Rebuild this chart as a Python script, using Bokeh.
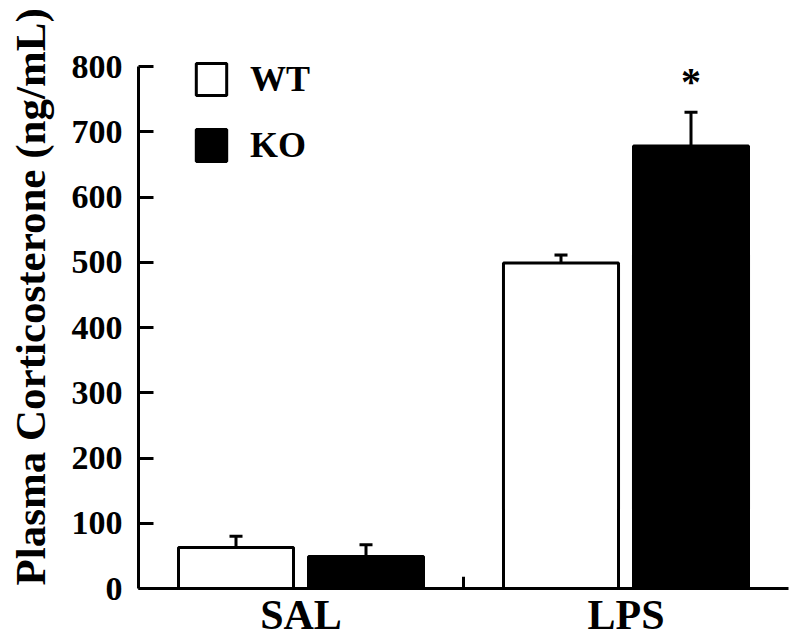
from bokeh.plotting import figure
from bokeh.models import (ColumnDataSource, FactorRange, Range1d, Whisker, TeeHead,
                          Legend, LegendItem, Title, FixedTicker)
from bokeh.transform import dodge
from bokeh.core.properties import value
from bokeh.embed import file_html
from bokeh.resources import INLINE

# ---- data ----
groups = ["SAL", "LPS"]
wt_mean = [63, 499]
wt_sem = [17, 12]
ko_mean = [49, 678]
ko_sem = [18, 52]
sig_marks = ["", "*"]          # KO vs WT significance
y_ticks = [0, 100, 200, 300, 400, 500, 600, 700, 800]
y_max_axis = 800
y_label = "Plasma Corticosterone (ng/mL)"
series_labels = ["WT", "KO"]

FONT = "Liberation Serif"

src = ColumnDataSource(dict(
    groups=groups,
    wt=wt_mean,
    ko=ko_mean,
    wt_top=[m + s for m, s in zip(wt_mean, wt_sem)],
    ko_top=[m + s for m, s in zip(ko_mean, ko_sem)],
    sig=sig_marks,
    sig_y=[m + s + 47 for m, s in zip(ko_mean, ko_sem)],
))

FRAME_H = 532
# keep 522 px per 800 units; a little headroom above the axis end
p = figure(x_range=FactorRange(*groups), y_range=Range1d(0, y_max_axis * FRAME_H / 522),
           frame_width=650, frame_height=FRAME_H,
           output_backend="svg", toolbar_location=None,
           min_border_left=138, min_border_right=4, min_border_top=56,
           min_border_bottom=40)
p.outline_line_color = None
p.grid.visible = False

# x axis
xa = p.xaxis[0]
xa.axis_line_width = 3
xa.axis_line_color = "black"
xa.major_tick_line_color = None
xa.minor_tick_line_color = None
xa.major_label_text_font = FONT
xa.major_label_text_font_style = "bold"
xa.major_label_text_font_size = "42px"
xa.major_label_text_color = "black"
xa.major_label_standoff = -3

# y axis
ya = p.yaxis[0]
ya.ticker = FixedTicker(ticks=y_ticks)
ya.bounds = (0, y_max_axis)
ya.axis_line_width = 3
ya.axis_line_color = "black"
ya.major_tick_in = 15
ya.major_tick_out = 0
ya.major_tick_line_width = 3
ya.major_tick_line_color = "black"
ya.minor_tick_line_color = None
ya.major_label_text_font = FONT
ya.major_label_text_font_style = "bold"
ya.major_label_text_font_size = "34px"
ya.major_label_text_color = "black"
ya.major_label_standoff = 16
# spacer so the y title sits at the far left
ya.axis_label = " "
ya.axis_label_text_font_size = "1px"
ya.axis_label_standoff = 11

# bars
wt_r = p.vbar(x=dodge("groups", -0.2, range=p.x_range), top="wt", width=0.354,
              source=src, fill_color="white", line_color="black", line_width=3)
ko_r = p.vbar(x=dodge("groups", 0.2, range=p.x_range), top="ko", width=0.354,
              source=src, fill_color="black", line_color="black", line_width=3)

# error bars (upper only)
for off, lo, hi in [(-0.2, "wt", "wt_top"), (0.2, "ko", "ko_top")]:
    w = Whisker(base=dodge("groups", off, range=p.x_range), lower=lo, upper=hi,
                source=src, dimension="height", line_width=3, line_color="black",
                upper_head=TeeHead(size=13, line_width=3, line_color="black"),
                lower_head=None)
    p.add_layout(w)

# group separator tick
p.segment(x0=[1.0], y0=[0], x1=[1.0], y1=[18], line_width=3, line_color="black")

# significance star
p.text(x=dodge("groups", 0.2, range=p.x_range), y="sig_y", text="sig", source=src,
       text_font=value(FONT), text_font_style="bold", text_font_size="40px",
       text_align="center", text_baseline="alphabetic", text_color="black")

# legend
legend = Legend(items=[LegendItem(label=series_labels[0], renderers=[wt_r]),
                       LegendItem(label=series_labels[1], renderers=[ko_r])],
                location=(54, 422), orientation="vertical",
                glyph_width=38, glyph_height=40, label_height=34,
                label_standoff=20, spacing=24, padding=0, margin=0,
                border_line_color=None, background_fill_alpha=0,
                label_text_font=FONT, label_text_font_style="bold",
                label_text_font_size="36px", label_text_color="black")
p.add_layout(legend)

# y label as a left-side title
t = Title(text=y_label, align="left", offset=3, standoff=0, text_font=FONT,
          text_font_style="bold", text_font_size="43px", text_color="black")
p.add_layout(t, "left")

open("out.html", "w").write(file_html(p, INLINE))
